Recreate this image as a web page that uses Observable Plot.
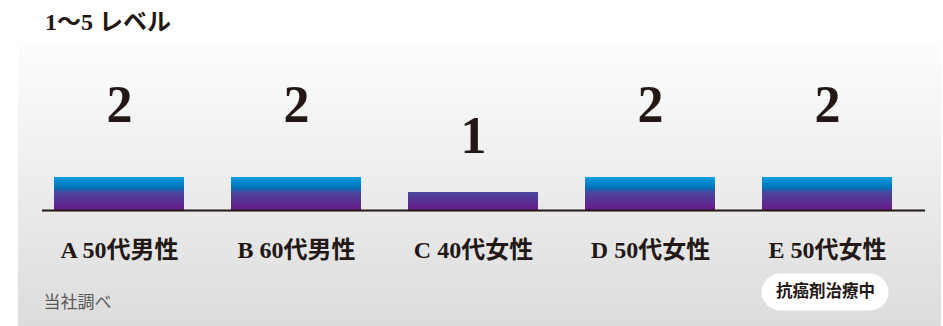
<!DOCTYPE html>
<html>
<head>
<meta charset="utf-8">
<script src="https://cdn.jsdelivr.net/npm/d3@7"></script>
<script src="https://cdn.jsdelivr.net/npm/@observablehq/plot@0.6"></script>
<style>
  html, body { margin: 0; padding: 0; background: #ffffff; }
  #wrap { width: 943px; height: 326px; position: relative; overflow: hidden; }
  #title {
    height: 36px; padding-top: 4px; padding-left: 45px; line-height: 36px;
    font-family: "Liberation Serif", "Noto Sans CJK JP", serif; font-weight: bold;
    font-size: 24px; color: #231815; box-sizing: content-box; margin-bottom: 2px;
  }
  #chart { margin-left: 18px; }
  #chart svg { display: block; }
</style>
</head>
<body>
<div id="wrap">
  <div id="title"></div>
  <div id="chart"></div>
</div>
<script>
const title = "1〜5 レベル";
const categories = ["A 50代男性", "B 60代男性", "C 40代女性", "D 50代女性", "E 50代女性"];
const levels = [2, 2, 1, 2, 2];
const noteCategories = ["E 50代女性"];
const noteTexts = ["抗癌剤治療中"];
const source = "当社調べ";

const yFloor = -0.2;
const data = categories.map((c, i) => ({category: c, value: levels[i]}));
const notes = noteCategories.map((c, i) => ({category: c, text: noteTexts[i]}));

document.getElementById("title").textContent = title;

const ink = "#231815";
const serif = "Liberation Serif, Noto Sans CJK JP, serif";
const sans = "Noto Sans CJK JP, sans-serif";

const chart = Plot.plot({
  width: 923,
  height: 284,
  marginLeft: 24,
  marginRight: 16,
  marginTop: 90,
  marginBottom: 116,
  style: {background: "linear-gradient(#fdfdfd, #dcdcdc)", overflow: "visible"},
  x: {domain: categories, paddingInner: 0.2676, paddingOuter: 0.1213, align: 0.26, axis: null},
  y: {domain: [yFloor, 5], axis: null},
  marks: [
    Plot.barY(data, {x: "category", y1: d => yFloor, y2: "value", fill: "url(#lvGrad)"}),
    Plot.ruleY([yFloor], {stroke: ink, strokeWidth: 2}),
    Plot.text(data, {
      x: "category", y: d => 2.7 + 2.07 * d.value, text: d => String(d.value),
      fontSize: 52, fontWeight: "bold", fontFamily: serif, fill: ink
    }),
    Plot.text(categories, {
      x: d => d, text: d => d, frameAnchor: "bottom", dy: 47,
      fontSize: 24, fontWeight: "bold", fontFamily: serif, fill: ink
    }),
    Plot.tickY(notes, {
      x: "category", y: d => yFloor, dy: 81.5, dx: -2, insetLeft: 20, insetRight: 20,
      stroke: "#ffffff", strokeWidth: 37, strokeLinecap: "round"
    }),
    Plot.text(notes, {
      x: "category", y: d => yFloor, dy: 81.5, dx: -2, text: "text",
      fontSize: 16.5, fontWeight: "bold", fontFamily: sans, fill: ink
    }),
    Plot.text([source], {
      text: d => d, frameAnchor: "bottom-left", textAnchor: "start", dx: 1, dy: 97,
      fontSize: 17, fontFamily: sans, fill: "#595757"
    })
  ]
});

const ys = chart.scale("y");
const gTop = ys.apply(2);
const gBottom = ys.apply(yFloor);
const svg = d3.select(chart);
const defs = svg.insert("defs", ":first-child");
const grad = defs.append("linearGradient")
  .attr("id", "lvGrad")
  .attr("gradientUnits", "userSpaceOnUse")
  .attr("x1", 0).attr("x2", 0)
  .attr("y1", gTop).attr("y2", gBottom);
[[0, "#0aa0e2"], [0.32, "#0072b8"], [0.47, "#4c469e"], [0.75, "#583090"], [1, "#661a88"]]
  .forEach(([o, c]) => grad.append("stop").attr("offset", o).attr("stop-color", c));

document.getElementById("chart").appendChild(chart);
</script>
</body>
</html>
